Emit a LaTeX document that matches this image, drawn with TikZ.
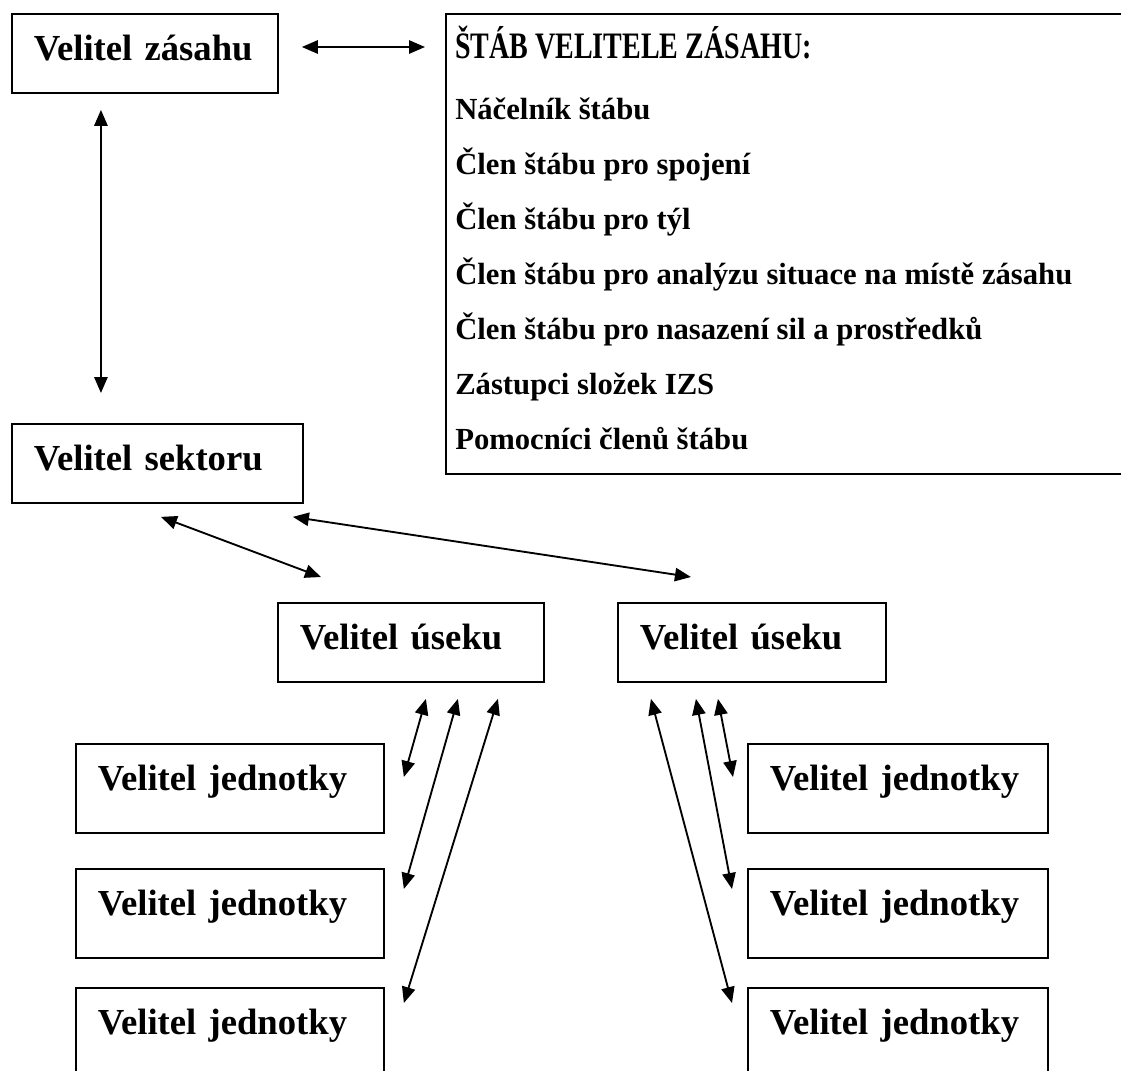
\documentclass[tikz,border=0pt]{standalone}
\usepackage{fontspec}
\setmainfont{Liberation Serif}
\usepackage{graphicx}
\usetikzlibrary{positioning,arrows.meta,calc}

\newcommand{\boxfont}{\fontsize{27.5pt}{33pt}\selectfont\bfseries}
\newcommand{\stabfont}{\fontsize{23pt}{27pt}\selectfont\bfseries}
\newcommand{\headfont}{\fontsize{28pt}{32pt}\selectfont\bfseries}

\begin{document}
\begin{tikzpicture}[
  x=0.75pt, y=-0.75pt,
  box/.style={draw, line width=1.4pt, inner xsep=16.5pt, inner ysep=0pt,
              text height=35.25pt, text depth=24pt, align=left, font=\boxfont},
  unitbox/.style={box, text depth=31.5pt},
  staffline/.style={inner sep=0pt, anchor=base west, font=\stabfont},
  arr/.style={{Triangle[length=12pt,width=10pt]}-{Triangle[length=12pt,width=10pt]},
              line width=1.4pt}
]
\useasboundingbox (0,0) rectangle (1121,1071);
\clip (0,0) rectangle (1121,1071);
% Commander and his staff
\node[box, text width=166.5pt, anchor=north west] (zasah) at (11,13) {Velitel zásahu};
\node[draw, line width=1.4pt, minimum width=525pt, minimum height=345pt,
      anchor=north west] (stab) at (445,13) {};
\node[staffline, font=\headfont] (head) at (455,58)
     {\scalebox{0.75}[1]{ŠTÁB VELITELE ZÁSAHU:}};
\node[staffline] (item1) at (455,119) {Náčelník štábu};
\node[staffline] (item2) at (455,174) {Člen štábu pro spojení};
\node[staffline] (item3) at (455,229) {Člen štábu pro týl};
\node[staffline] (item4) at (455,284) {Člen štábu pro analýzu situace na místě zásahu};
\node[staffline] (item5) at (455,339) {Člen štábu pro nasazení sil a prostředků};
\node[staffline] (item6) at (455,394) {Zástupci složek IZS};
\node[staffline] (item7) at (455,449) {Pomocníci členů štábu};
% Sector and sections
\node[box, text width=185.25pt, anchor=north west] (sektor) at (11,423) {Velitel sektoru};
\node[box, text width=166.5pt, anchor=north west] (usek1) at (277,602) {Velitel úseku};
\node[box, text width=168pt, anchor=north west] (usek2) at (617,602) {Velitel úseku};
% Units
\node[unitbox, text width=198pt, anchor=north west] (jl1) at (75,743) {Velitel jednotky};
\node[unitbox, text width=198pt, anchor=north west] (jl2) at (75,868) {Velitel jednotky};
\node[unitbox, text width=198pt, anchor=north west] (jl3) at (75,987) {Velitel jednotky};
\node[unitbox, text width=192pt, anchor=north west] (jr1) at (747,743) {Velitel jednotky};
\node[unitbox, text width=192pt, anchor=north west] (jr2) at (747,868) {Velitel jednotky};
\node[unitbox, text width=192pt, anchor=north west] (jr3) at (747,987) {Velitel jednotky};
% Links
\draw[arr] ($(zasah.north east)+(23,34)$) -- ($(stab.north west)+(-20,34)$);
\draw[arr] ($(zasah.south)+(-44,16)$) -- ($(sektor.north)+(-56.5,-30)$);
\draw[arr] ($(sektor.south)+(3.5,13)$) -- ($(usek1.north)+(-90,-25)$);
\draw[arr] ($(sektor.south east)+(-11,13)$) -- ($(usek2.north)+(-61,-25)$);
\draw[arr] ($(usek1.south)+(15,16)$) -- ($(jl1.north east)+(19,34)$);
\draw[arr] ($(usek1.south)+(47,16)$) -- ($(jl2.north east)+(19,21)$);
\draw[arr] ($(usek1.south)+(87,16)$) -- ($(jl3.north east)+(19,16)$);
\draw[arr] ($(usek2.south)+(-34,16)$) -- ($(jr1.north west)+(-14,34)$);
\draw[arr] ($(usek2.south)+(-56,16)$) -- ($(jr2.north west)+(-15,21)$);
\draw[arr] ($(usek2.south)+(-101,16)$) -- ($(jr3.north west)+(-15,16)$);
\end{tikzpicture}
\end{document}
